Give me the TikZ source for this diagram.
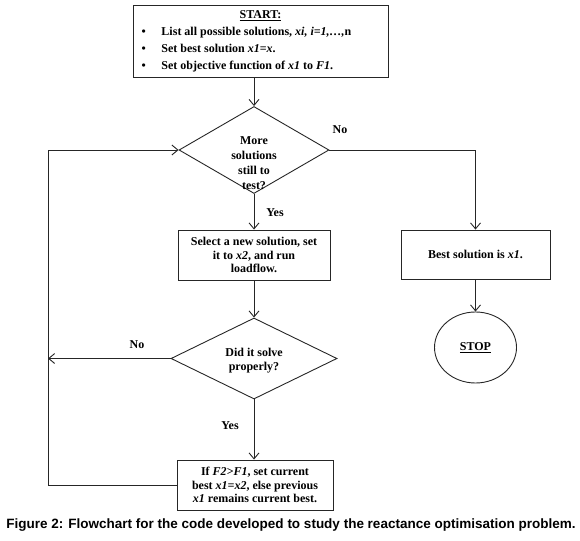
\documentclass[tikz,border=0pt]{standalone}
\usepackage{fontspec}
\setmainfont{Liberation Serif}
\newfontfamily\capfont{Liberation Sans}
\usetikzlibrary{shapes.geometric,arrows.meta}
\begin{document}
\begin{tikzpicture}[x=1pt,y=-1pt,
  line/.style={draw=black!85, line width=0.9pt},
  arr/.style={line, -{Straight Barb[length=6pt,width=10pt,line width=0.9pt]}},
  box/.style={draw=black!85, line width=0.9pt, rectangle, inner sep=0pt, align=center,
    font=\fontsize{12}{13.6}\selectfont\bfseries},
  decision/.style={draw=black!85, line width=0.9pt, diamond, inner sep=0pt},
  dtext/.style={align=center, inner sep=0pt, font=\fontsize{12}{15}\selectfont\bfseries},
  lab/.style={inner sep=0pt, font=\fontsize{12}{13}\selectfont\bfseries},
]
\useasboundingbox (0,0) rectangle (580,540);

\node[box, minimum width=255pt, minimum height=72pt, align=left,
  font=\fontsize{12}{17}\selectfont\bfseries] (start) at (260.5,41) {%
  \makebox[250pt][c]{\underline{START:}}\\
  \hspace*{6pt}\makebox[20pt][l]{\textbullet}List all possible solutions, \textit{xi, i=1,\dots,}n\\
  \hspace*{6pt}\makebox[20pt][l]{\textbullet}Set best solution \textit{x1}=\textit{x}.\\
  \hspace*{6pt}\makebox[20pt][l]{\textbullet}Set objective function of \textit{x1} to \textit{F1}.};

\node[decision, minimum width=150pt, minimum height=87pt] (d1) at (254,150) {};
\node[dtext] (d1t) at (254,163) {More\\solutions\\still to\\test?};

\node[box, minimum width=152pt, minimum height=50pt] (box2) at (254,255)
  {Select a new solution, set\\it to \textit{x2}, and run\\loadflow.};

\node[decision, minimum width=166pt, minimum height=81pt] (d2) at (254,358.5) {};
\node[dtext, font=\fontsize{12}{14}\selectfont\bfseries] (d2t) at (254,361) {Did it solve\\properly?};

\node[box, minimum width=156pt, minimum height=50pt] (box3) at (255,485)
  {If \textit{F2>F1}, set current\\best \textit{x1=x2}, else previous\\\textit{x1} remains current best.};

\node[box, minimum width=149pt, minimum height=49pt] (box4) at (475.5,254.5)
  {Best solution is \textit{x1}.};

\node[ellipse, draw=black!85, line width=0.9pt, minimum width=82pt, minimum height=71pt,
  inner sep=0pt, font=\fontsize{12}{13}\selectfont\bfseries] (stop) at (475.5,347.5) {\underline{STOP}};

\coordinate (lt) at (48,150);
\coordinate (lb) at (48,485);
\coordinate (lm) at (48,358.5);

\draw[arr] (start.south -| d1.north) -- (d1.north);
\draw[arr] (d1.south) -- (box2.north -| d1.south);
\draw[arr] (box2.south -| d2.north) -- (d2.north);
\draw[arr] (d2.south) -- (box3.north -| d2.south);
\draw[arr] (d1.east) -| (box4.north);
\draw[arr] (box4.south) -- (stop.north);
\draw[arr] (d2.west) -- (lm);
\draw[arr] (box3.west) -- (lb) -- (lt) -- (d1.west);

\node[lab] (no1) at (340,130) {No};
\node[lab] (yes1) at (275,213) {Yes};
\node[lab] (no2) at (137,345) {No};
\node[lab] (yes2) at (230,426) {Yes};

\node[inner sep=0pt, font=\capfont\bfseries\fontsize{13.5}{15}\selectfont] (cap) at (291,525)
  {Figure 2: Flowchart for the code developed to study the reactance optimisation problem.};
\end{tikzpicture}
\end{document}
